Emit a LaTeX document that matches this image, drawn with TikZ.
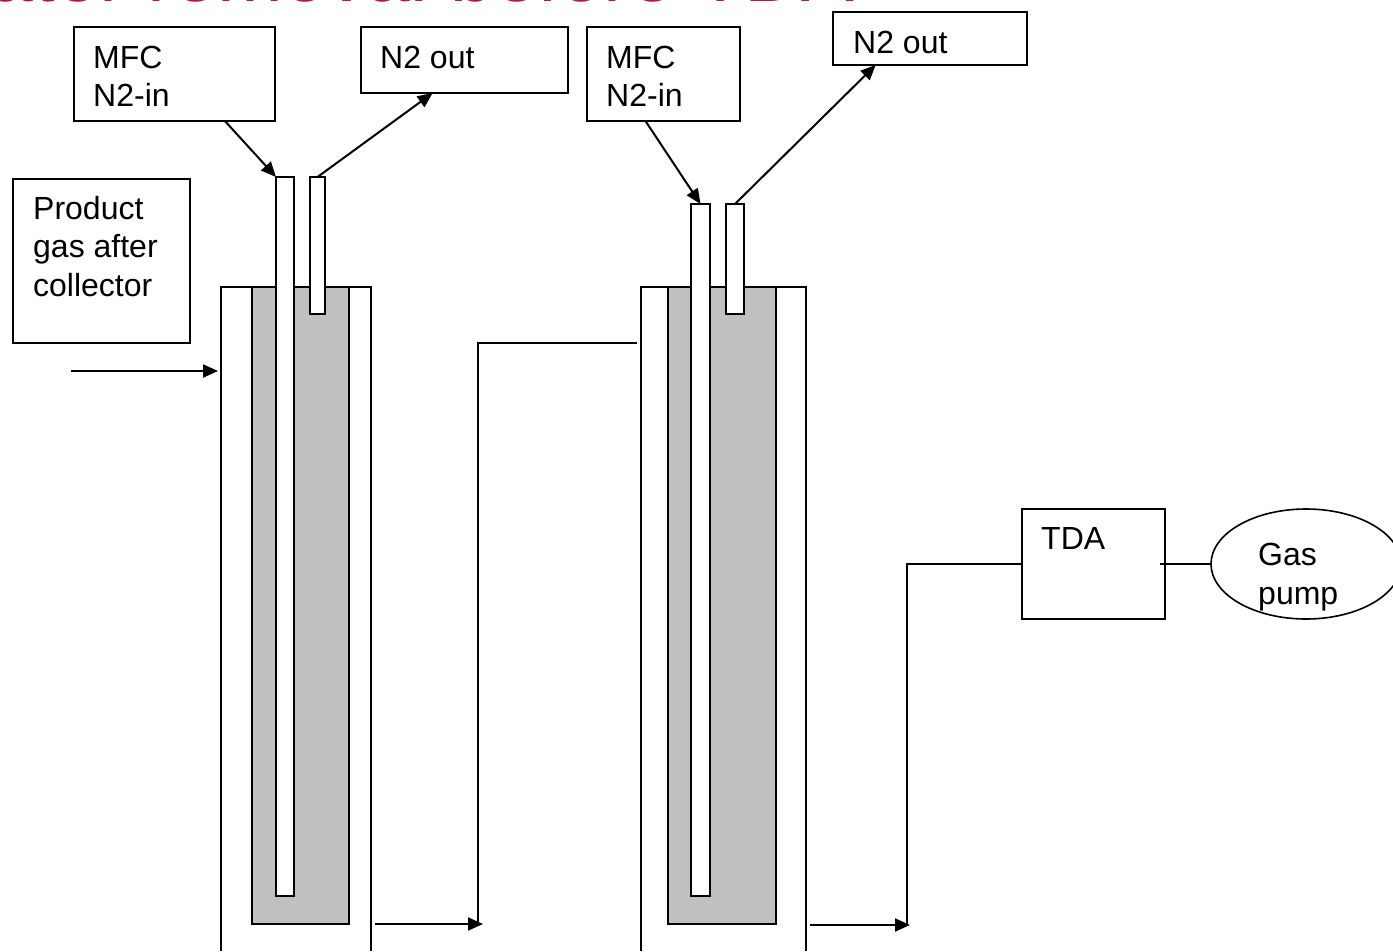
\documentclass[tikz,border=0pt]{standalone}
\usepackage{fontspec}
\setmainfont{Liberation Sans}
\usepackage{xcolor}
\usetikzlibrary{arrows.meta}
\usetikzlibrary{shapes.geometric}
\definecolor{titlered}{HTML}{C01436}
\definecolor{coregray}{HTML}{C0C0C0}
\tikzset{
  label box/.style={draw, line width=1.7pt, fill=white, anchor=north west, inner sep=0pt, outer sep=0pt},
  box text/.style={anchor=north west, inner sep=0pt, align=left, font=\fontsize{32}{37.5}\selectfont},
  core/.style={draw, line width=1.7pt, fill=coregray, anchor=north west, inner sep=0pt, outer sep=0pt},
  tube/.style={draw, line width=1.7pt, fill=white, anchor=north west, inner sep=0pt, outer sep=0pt},
  pipe/.style={line width=2pt},
  flow/.style={line width=2pt, -{Triangle[length=15pt,width=13pt]}},
}

\begin{document}
\begin{tikzpicture}[x=1pt, y=-1pt]
  \useasboundingbox (0,0) rectangle (1393,951);
  % title, cut by the top edge
  \node[anchor=base west, inner sep=0pt, text=titlered, font=\fontsize{79}{79}\selectfont] (title) at (-11,1) {ater removal before TDA};

  % left vessel
  \draw[pipe] (221,951) -- (221,287) -- (371,287) -- (371,951);
  \node[core, minimum width=97pt, minimum height=637pt] (coreA) at (252,287) {};
  \node[tube, minimum width=18pt, minimum height=719pt] (tubeA) at (276,177) {};
  \node[tube, minimum width=15pt, minimum height=137pt] (ventA) at (310,177) {};

  % right vessel
  \draw[pipe] (641,951) -- (641,287) -- (806,287) -- (806,951);
  \node[core, minimum width=108pt, minimum height=637pt] (coreB) at (668,287) {};
  \node[tube, minimum width=19pt, minimum height=692pt] (tubeB) at (691,204) {};
  \node[tube, minimum width=18pt, minimum height=110pt] (ventB) at (726,204) {};

  % boxes
  \node[label box, minimum width=201pt, minimum height=94pt] (mfcA) at (74,27) {};
  \node[box text] (mfcAtext) at (93,46) {MFC\\N2-in};
  \node[label box, minimum width=207pt, minimum height=66pt] (outA) at (361,27) {};
  \node[box text] (outAtext) at (380,46) {N2 out};
  \node[label box, minimum width=153pt, minimum height=94pt] (mfcB) at (587,27) {};
  \node[box text] (mfcBtext) at (606,46) {MFC\\N2-in};
  \node[label box, minimum width=194pt, minimum height=53pt] (outB) at (833,12) {};
  \node[box text] (outBtext) at (853,31) {N2 out};
  \node[label box, minimum width=177pt, minimum height=164pt] (gasbox) at (13,179) {};
  \node[box text, font=\fontsize{32}{38.5}\selectfont] (gastext) at (33,196) {Product\\gas after\\collector};
  \node[label box, minimum width=143pt, minimum height=110pt] (tda) at (1022,509) {};
  \node[box text] (tdatext) at (1041,527) {TDA};
  \node[ellipse, draw, line width=1.6pt, minimum width=190pt, minimum height=110pt, inner sep=0pt, outer sep=0pt] (pump) at (1306,564) {};
  \node[box text, font=\fontsize{32}{39}\selectfont] (pumptext) at (1258,543) {Gas\\pump};

  % free ends of the pipes
  \coordinate (feedA) at (71,371);
  \coordinate (feedB) at (218,371);
  \coordinate (exitA) at (375,924);
  \coordinate (exitB) at (483,924);
  \coordinate (riseA) at (478,924);
  \coordinate (riseB) at (478,343);
  \coordinate (inB) at (637,343);
  \coordinate (exitC) at (810,925);
  \coordinate (exitD) at (910,925);
  \coordinate (riseC) at (907,925);
  \coordinate (riseD) at (907,564);
  \coordinate (tdaIn) at (1022,564);
  \coordinate (tdaOut) at (1160,564);

  % connectors
  \draw[flow] (mfcA.-43) -- (tubeA.north west);
  \draw[flow] (ventA.north) -- (outA.-134);
  \draw[flow] (mfcB.-111.5) -- (tubeB.north);
  \draw[flow] (ventB.north) -- (outB.-154.6);
  \draw[flow] (feedA) -- (feedB);
  \draw[pipe] (inB) -- (riseB) -- (riseA);
  \draw[pipe] (tdaIn) -- (riseD) -- (riseC);
  \draw[flow] (exitA) -- (exitB);
  \draw[flow] (exitC) -- (exitD);
  \draw[pipe] (tdaOut) -- (pump.west);
\end{tikzpicture}
\end{document}
